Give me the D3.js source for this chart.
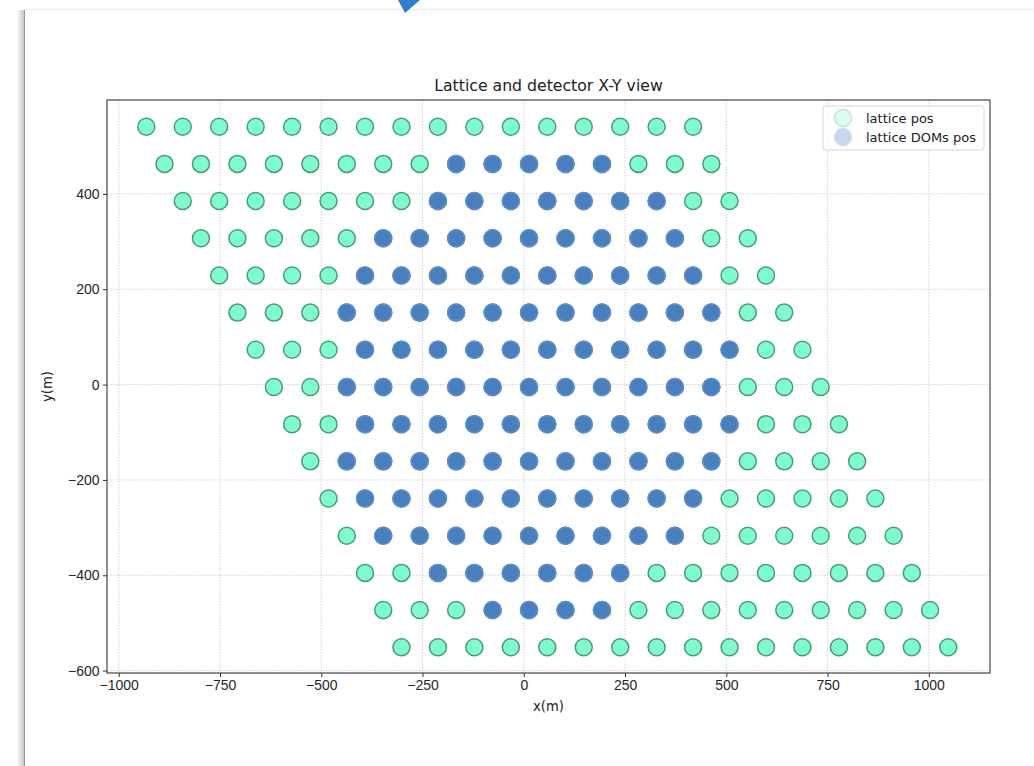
<!DOCTYPE html>
<html>
<head>
  <meta charset="utf-8">
  <style>
    body { margin: 0; background: #ffffff; }
    svg { font-family: "DejaVu Sans", sans-serif; }
    .grid line { stroke: #c8c8c8; stroke-dasharray: 1.5,1.5; stroke-width: 0.8; }
    .axis path { display: none; }
    .axis line { stroke: #333; }
    .axis text { fill: #262626; font-size: 14px; }
  </style>
  <title>Lattice and detector X-Y view</title>
</head>
<body>
  <script src="https://cdn.jsdelivr.net/npm/d3@7"></script>
  <script>
    // row y positions (m), top row first
    var rowY = [541, 463, 385, 307, 229, 151, 73, -5, -83, -161, -239, -317, -395, -473, -551];

    // lattice x positions (m) for each row
    var rowX = [
      [-932,-842,-752,-662,-572,-482,-392,-302,-212,-122,-32,58,148,238,328,418],
      [-887,-797,-707,-617,-527,-437,-347,-257,-167,-77,13,103,193,283,373,463],
      [-842,-752,-662,-572,-482,-392,-302,-212,-122,-32,58,148,238,328,418,508],
      [-797,-707,-617,-527,-437,-347,-257,-167,-77,13,103,193,283,373,463,553],
      [-752,-662,-572,-482,-392,-302,-212,-122,-32,58,148,238,328,418,508,598],
      [-707,-617,-527,-437,-347,-257,-167,-77,13,103,193,283,373,463,553,643],
      [-662,-572,-482,-392,-302,-212,-122,-32,58,148,238,328,418,508,598,688],
      [-617,-527,-437,-347,-257,-167,-77,13,103,193,283,373,463,553,643,733],
      [-572,-482,-392,-302,-212,-122,-32,58,148,238,328,418,508,598,688,778],
      [-527,-437,-347,-257,-167,-77,13,103,193,283,373,463,553,643,733,823],
      [-482,-392,-302,-212,-122,-32,58,148,238,328,418,508,598,688,778,868],
      [-437,-347,-257,-167,-77,13,103,193,283,373,463,553,643,733,823,913],
      [-392,-302,-212,-122,-32,58,148,238,328,418,508,598,688,778,868,958],
      [-347,-257,-167,-77,13,103,193,283,373,463,553,643,733,823,913,1003],
      [-302,-212,-122,-32,58,148,238,328,418,508,598,688,778,868,958,1048]
    ];

    // which lattice positions hold DOMs (1 = DOM)
    var domMask = [
      "0000000000000000",
      "0000000011111000",
      "0000000111111100",
      "0000011111111100",
      "0000111111111100",
      "0001111111111100",
      "0001111111111100",
      "0011111111111000",
      "0011111111111000",
      "0111111111110000",
      "0111111111100000",
      "0111111111000000",
      "0011111100000000",
      "0001111000000000",
      "0000000000000000"
    ];

    var xTicks = [-1000, -750, -500, -250, 0, 250, 500, 750, 1000];
    var yTicks = [-600, -400, -200, 0, 200, 400];

    var latticePts = [];
    var domPts = [];
    rowY.forEach(function(y, i) {
      rowX[i].forEach(function(x, j) {
        latticePts.push([x, y]);
        if (domMask[i][j] === "1") domPts.push([x, y]);
      });
    });

    var width = 1034, height = 766;
    var mLeft = 107, mRight = 990, mTop = 100, mBottom = 673;

    var svg = d3.select("body").append("svg").attr("width", width).attr("height", height);

    // notebook card frame
    var defs = svg.append("defs");
    var grad = defs.append("linearGradient").attr("id", "shadow").attr("x1", 0).attr("x2", 1);
    grad.append("stop").attr("offset", 0).attr("stop-color", "#ffffff");
    grad.append("stop").attr("offset", 1).attr("stop-color", "#c4c4c4");
    svg.append("rect").attr("x", 17).attr("y", 10).attr("width", 7).attr("height", height).attr("fill", "url(#shadow)");
    svg.append("line").attr("x1", 24).attr("x2", width).attr("y1", 9.5).attr("y2", 9.5).attr("stroke", "#ececec");
    svg.append("line").attr("x1", 24.5).attr("x2", 24.5).attr("y1", 10).attr("y2", height).attr("stroke", "#9a9a9a");
    svg.append("path").attr("d", "M398,0 L420,0 L405,13 Z").attr("fill", "#2f7fd0");

    var xScale = d3.scaleLinear().domain([-1029, 1151]).range([mLeft, mRight]);
    var yScale = d3.scaleLinear().domain([-605, 597]).range([mBottom, mTop]);

    // grid
    svg.append("g").attr("class", "grid").selectAll("line").data(xTicks).enter().append("line")
      .attr("x1", function(d) { return xScale(d); }).attr("x2", function(d) { return xScale(d); })
      .attr("y1", mTop).attr("y2", mBottom);
    svg.append("g").attr("class", "grid").selectAll("line").data(yTicks).enter().append("line")
      .attr("y1", function(d) { return yScale(d); }).attr("y2", function(d) { return yScale(d); })
      .attr("x1", mLeft).attr("x2", mRight);

    // points
    svg.append("g").selectAll("circle").data(latticePts).enter().append("circle")
      .attr("cx", function(d) { return xScale(d[0]); })
      .attr("cy", function(d) { return yScale(d[1]); })
      .attr("r", 8.5)
      .attr("fill", "#7ffccf").attr("stroke", "#459e74").attr("stroke-width", 1.5);
    svg.append("g").selectAll("circle").data(domPts).enter().append("circle")
      .attr("cx", function(d) { return xScale(d[0]); })
      .attr("cy", function(d) { return yScale(d[1]); })
      .attr("r", 8.5)
      .attr("fill", "#4a7fbe").attr("stroke", "#5a8ed6").attr("stroke-width", 1.5);

    // axes
    var fmt = d3.format("d");
    svg.append("g").attr("class", "axis").attr("transform", "translate(0," + mBottom + ")")
      .call(d3.axisBottom(xScale).tickValues(xTicks).tickFormat(fmt).tickSize(4).tickPadding(3.5));
    svg.append("g").attr("class", "axis").attr("transform", "translate(" + mLeft + ",0)")
      .call(d3.axisLeft(yScale).tickValues(yTicks).tickFormat(fmt).tickSize(4).tickPadding(3.5));

    svg.append("rect").attr("x", mLeft).attr("y", mTop).attr("width", mRight - mLeft).attr("height", mBottom - mTop)
      .attr("fill", "none").attr("stroke", "#333").attr("stroke-width", 1.1);

    // labels
    svg.append("text").attr("x", (mLeft + mRight) / 2).attr("y", 91).attr("text-anchor", "middle")
      .attr("font-size", "15.7px").attr("fill", "#222").text("Lattice and detector X-Y view");
    svg.append("text").attr("x", (mLeft + mRight) / 2).attr("y", 711).attr("text-anchor", "middle")
      .attr("font-size", "13.2px").attr("fill", "#222").text("x(m)");
    svg.append("text").attr("transform", "translate(52," + ((mTop + mBottom) / 2) + ") rotate(-90)")
      .attr("text-anchor", "middle").attr("font-size", "13.2px").attr("fill", "#222").text("y(m)");

    // legend
    var lg = svg.append("g").attr("transform", "translate(823,106)");
    lg.append("rect").attr("width", 161).attr("height", 44).attr("rx", 3)
      .attr("fill", "#fff").attr("fill-opacity", 0.8).attr("stroke", "#d6d6d6");
    var legendItems = [
      { label: "lattice pos", fill: "#7ffccf", stroke: "#459e74" },
      { label: "lattice DOMs pos", fill: "#4a7fbe", stroke: "#5a8ed6" }
    ];
    legendItems.forEach(function(item, i) {
      lg.append("circle").attr("cx", 20).attr("cy", 12 + i * 19).attr("r", 8.5)
        .attr("fill", item.fill).attr("stroke", item.stroke).attr("stroke-width", 1.5).attr("opacity", 0.3);
      lg.append("text").attr("x", 43).attr("y", 16.5 + i * 19).attr("font-size", "13px")
        .attr("fill", "#222").text(item.label);
    });
  </script>
</body>
</html>
